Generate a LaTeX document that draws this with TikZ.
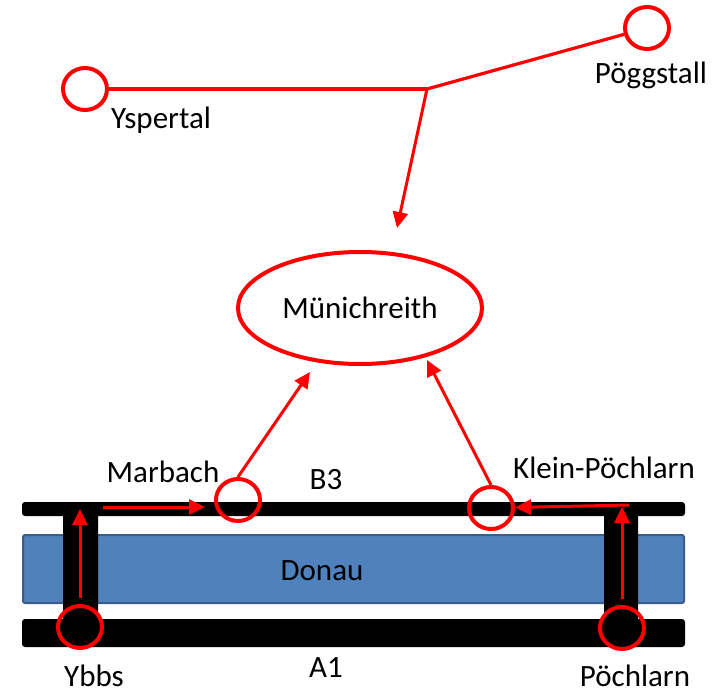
\documentclass[tikz,border=0pt]{standalone}
\usepackage{fontspec}
\setmainfont{Carlito}
\usetikzlibrary{arrows.meta,shapes.geometric}
\definecolor{donaublue}{HTML}{4F81BD}
\definecolor{donauedge}{HTML}{385D8A}

\begin{document}
\begin{tikzpicture}[x=0.5pt,y=-0.5pt,>={Triangle[length=8pt,width=7.5pt]},
  town node/.style={ellipse,draw=red,line width=2pt,minimum width=22pt,minimum height=21pt,inner sep=0pt},
  big node/.style={ellipse,draw=red,line width=2pt,minimum width=122pt,minimum height=56pt,inner sep=0pt,font=\fontsize{15.5}{18}\selectfont},
  name node/.style={anchor=base,inner sep=0pt,font=\fontsize{15.5}{18}\selectfont},
  road/.style={fill=black,rounded corners=1.5pt},
  river/.style={fill=donaublue,draw=donauedge,line width=1pt,rounded corners=1pt},
  red line/.style={draw=red,line width=1.6pt},
  red arrow/.style={->,color=red,line width=1.5pt}]

  \useasboundingbox (0,0) rectangle (725,691);

  % Donau, B3, A1 and the two bridges
  \filldraw[river] (23,535) rectangle (684,603);
  \fill[road] (22,502) rectangle (685,516);
  \fill[road] (22,619) rectangle (685,647);
  \fill[road] (63,505) rectangle (98,640);
  \fill[road] (604,505) rectangle (638,640);

  \node[town node] (ysp) at (85,89) {};
  \node[town node] (poegg) at (647,28) {};
  \node[big node] (muen) at (360,308) {Münichreith};
  \node[town node] (marb) at (238,500) {};
  \node[town node] (klein) at (491,508) {};
  \node[town node] (ybbs) at (80,627) {};
  \node[town node] (poech) at (622,628) {};

  \coordinate (junc) at (427,89);
  \coordinate (muentop) at (397,228);
  \coordinate (marbtip) at (310,372);
  \coordinate (kleintip) at (427,360);
  \coordinate (ybbstop) at (80,509);
  \coordinate (ybbsturn) at (103,507);
  \coordinate (marbend) at (205,507);
  \coordinate (poechtop) at (622,507);
  \coordinate (poechturn) at (629,505);

  \node[name node] (yspl) at (161,128) {Yspertal};
  \node[name node] (poeggl) at (651,83) {Pöggstall};
  \node[name node] (marbl) at (163,482) {Marbach};
  \node[name node] (b3) at (326,489) {B3};
  \node[name node] (kleinl) at (604,478) {Klein-Pöchlarn};
  \node[name node] (donau) at (322,580) {Donau};
  \node[name node] (a1) at (326,677) {A1};
  \node[name node] (ybbsl) at (94,686) {Ybbs};
  \node[name node] (poechl) at (635,686) {Pöchlarn};

  \path[red line]
    (ysp) edge (junc)
    (poegg) edge (junc);
  \path[red arrow]
    (junc) edge (muentop)
    (marb.north) edge (marbtip)
    (klein.north) edge (kleintip)
    (ybbs.north) edge[shorten <=3pt] (ybbstop)
    (ybbsturn) edge (marbend)
    (poech.north) edge[shorten <=3pt] (poechtop)
    (poechturn) edge (klein);
\end{tikzpicture}
\end{document}
